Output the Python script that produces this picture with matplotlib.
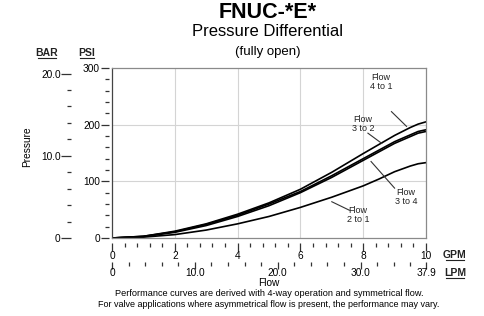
import matplotlib.pyplot as plt
from matplotlib.ticker import MultipleLocator, FixedLocator
from matplotlib.lines import Line2D

plt.rcParams['font.family'] = ['Liberation Sans', 'DejaVu Sans']

# flow in GPM and pressure drop in PSI
gpm = [0, 1, 2, 3, 4, 5, 6, 7, 8, 8.5, 9, 9.5, 9.75, 10]
flow_4_to_1 = [0, 3, 12, 25, 42, 62, 86, 116, 149, 165, 181, 195, 201, 205]
flow_3_to_2 = [0, 3, 11, 24, 40, 60, 82, 110, 140, 155, 170, 182, 188, 191]
flow_3_to_4 = [0, 2.5, 10, 22, 38, 57, 80, 107, 137, 152, 167, 179, 185, 188]
flow_2_to_1 = [0, 1.5, 6, 14, 25, 38, 54, 72, 92, 104, 117, 127, 131, 133]

psi_ticks = [0, 100, 200, 300]
bar_ticks = [0, 10, 20]
bar_labels = ['0', '10.0', '20.0']
gpm_ticks = [0, 2, 4, 6, 8, 10]
lpm_ticks = [0, 10, 20, 30, 37.9]
lpm_labels = ['0', '10.0', '20.0', '30.0', '37.9']

PSI_PER_BAR = 14.5038
LPM_PER_GPM = 3.79

fig = plt.figure(figsize=(4.85, 3.16), dpi=100)
ax = fig.add_axes([112 / 485, 1 - 238 / 316, 314 / 485, 170 / 316])

for y in [flow_4_to_1, flow_3_to_2, flow_3_to_4, flow_2_to_1]:
    ax.plot(gpm, y, color='black', linewidth=1.2, solid_capstyle='round', solid_joinstyle='round')

ax.set_xlim(0, 10)
ax.set_ylim(0, 300)
ax.set_xticks([2, 4, 6, 8])
ax.set_yticks([100, 200])
ax.grid(True, color='#d4d4d4', linewidth=0.8)
ax.tick_params(length=0, labelbottom=False, labelleft=False)
for s in ax.spines.values():
    s.set_color('#8a8a8a')
    s.set_linewidth(0.9)
ax.spines['left'].set_color('#444444')

tick_col = '#333333'
fs = 7.3

# PSI axis
psi = ax.secondary_yaxis(-3 / 314)
psi.spines['left'].set_visible(False)
psi.set_yticks(psi_ticks)
psi.yaxis.set_minor_locator(MultipleLocator(20))
psi.tick_params(which='major', length=6, width=0.9, color=tick_col, pad=0.5, labelsize=fs)
psi.tick_params(which='minor', length=3, width=0.9, color=tick_col)

# BAR axis
bar = ax.secondary_yaxis(-41 / 314, functions=(lambda p: p / PSI_PER_BAR, lambda b: b * PSI_PER_BAR))
bar.spines['left'].set_visible(False)
bar.set_yticks(bar_ticks)
bar.set_yticklabels(bar_labels)
bar.yaxis.set_minor_locator(MultipleLocator(2))
bar.tick_params(which='major', length=7, width=0.9, color=tick_col, pad=0.5, labelsize=fs)
bar.tick_params(which='minor', length=3, width=0.9, color=tick_col)

# GPM axis
gx = ax.secondary_xaxis(-5 / 170)
gx.spines['bottom'].set_visible(False)
gx.set_xticks(gpm_ticks)
gx.xaxis.set_minor_locator(MultipleLocator(0.4))
gx.tick_params(which='major', length=6, width=0.9, color=tick_col, pad=-0.5, labelsize=fs)
gx.tick_params(which='minor', length=3, width=0.9, color=tick_col)

# LPM axis
lx = ax.secondary_xaxis(-24 / 170, functions=(lambda g: g * LPM_PER_GPM, lambda l: l / LPM_PER_GPM))
lx.spines['bottom'].set_visible(False)
lx.set_xticks(lpm_ticks)
lx.set_xticklabels(lpm_labels)
lx.xaxis.set_minor_locator(FixedLocator(list(range(2, 38, 2))))
lx.tick_params(which='major', length=5, width=0.9, color=tick_col, pad=-0.5, labelsize=fs)
lx.tick_params(which='minor', length=3, width=0.9, color=tick_col)

# curve labels
ann = dict(fontsize=6.5, ha='center', va='center', linespacing=1.0, color='#222222')
line_kw = dict(color='#333333', linewidth=0.8)
ax.text(8.57, 275, 'Flow\n4 to 1', **ann)
ax.plot([8.9, 9.38], [223, 197], **line_kw)
ax.text(8.0, 201, 'Flow\n3 to 2', **ann)
ax.plot([8.15, 8.59], [185, 167], **line_kw)
ax.text(9.36, 72, 'Flow\n3 to 4', **ann)
ax.plot([9.0, 8.25], [88, 135], **line_kw)
ax.text(7.84, 40, 'Flow\n2 to 1', **ann)
ax.plot([7.56, 7.0], [49, 64], **line_kw)

# titles
def fy(py):
    return 1 - py / 316

fig.text(268 / 485, fy(13), 'FNUC-*E*', fontsize=15.5, fontweight='bold', ha='center', va='center')
fig.text(268 / 485, fy(32), 'Pressure Differential', fontsize=12, ha='center', va='center')
fig.text(268 / 485, fy(52), '(fully open)', fontsize=9.5, ha='center', va='center')

# unit labels with underline
units = [('BAR', 47, 53), ('PSI', 87, 53), ('GPM', 455, 255), ('LPM', 455, 273)]
for txt, px, py in units:
    fig.text(px / 485, fy(py), txt, fontsize=7.5, fontweight='bold', ha='center', va='center', color='#222222')
    w = 9 if txt != 'PSI' else 7
    fig.add_artist(Line2D([(px - w) / 485, (px + w) / 485], [fy(py + 5), fy(py + 5)],
                          color='#222222', linewidth=0.8))

fig.text(27 / 485, fy(147), 'Pressure', fontsize=7.3, rotation=90, ha='center', va='center')
fig.text(269 / 485, fy(282.5), 'Flow', fontsize=7.3, ha='center', va='center')
fig.text(269 / 485, fy(293.5), 'Performance curves are derived with 4-way operation and symmetrical flow.',
         fontsize=6.6, ha='center', va='center')
fig.text(269 / 485, fy(304.5), 'For valve applications where asymmetrical flow is present, the performance may vary.',
         fontsize=6.5, ha='center', va='center')

fig.savefig('out.png', dpi=100)
